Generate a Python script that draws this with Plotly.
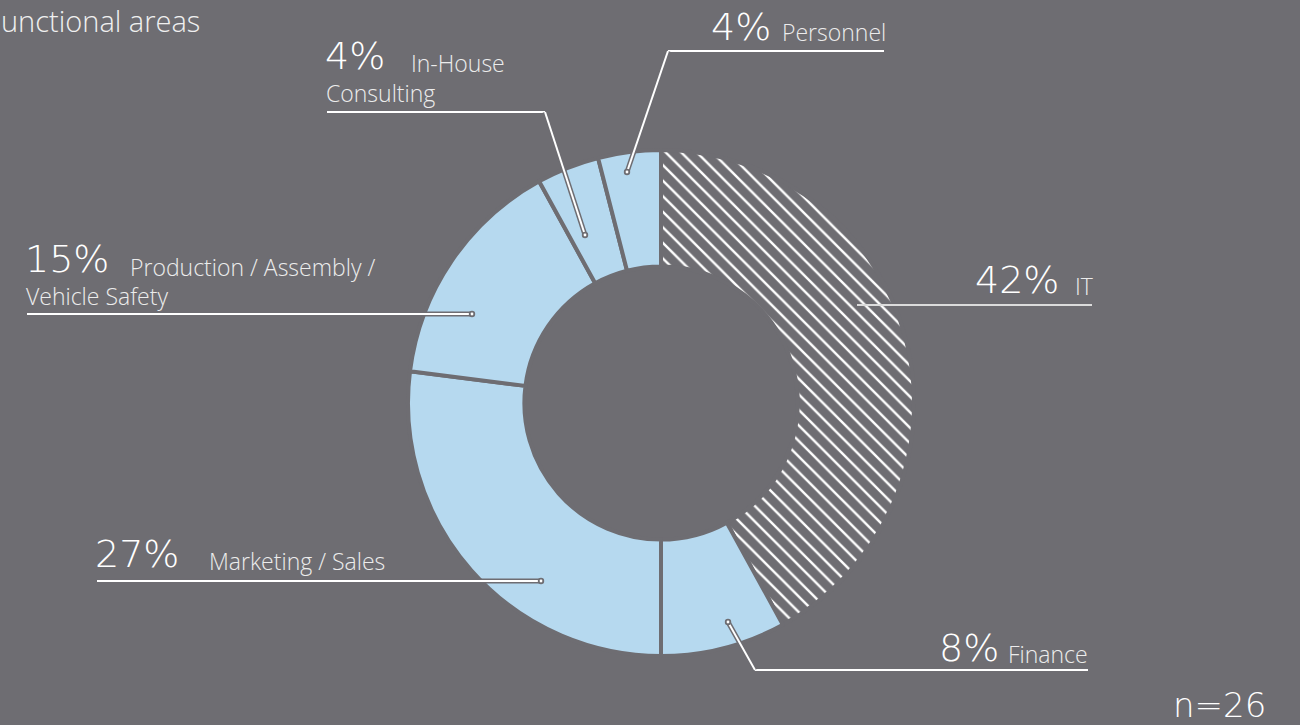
import plotly.graph_objects as go

# ---- data ----
areas = ["IT", "Finance", "Marketing / Sales", "Production / Assembly / Vehicle Safety",
         "In-House Consulting", "Personnel"]
shares = [42, 8, 27, 15, 4, 4]
pct_labels = ["42%", "8%", "27%", "15%", "4%", "4%"]
title_text = "unctional areas"
n_text = "n=26"

W, H = 1300, 725
BG = "#6e6d72"
BLUE = "#b6d9ef"
WHITE = "#ffffff"
LABEL_C = "#ececec"


def px(x, y):
    return x / W, 1 - y / H


cx, cy, R = 661, 403, 253
fig = go.Figure()
fig.add_trace(go.Pie(
    values=shares, labels=areas, sort=False, direction="clockwise", rotation=0,
    hole=0.54, textinfo="none", hoverinfo="label+percent",
    domain=dict(x=[(cx - R) / W, (cx + R) / W], y=[1 - (cy + R) / H, 1 - (cy - R) / H]),
    marker=dict(
        colors=[BG] + [BLUE] * 5,
        line=dict(color=BG, width=4),
        pattern=dict(shape=["\\", "", "", "", "", ""], fgcolor=WHITE, bgcolor=BG,
                     size=11, solidity=0.22, fillmode="replace"),
    ),
    showlegend=False,
))

shapes = []
annotations = []


def seg(x0, y0, x1, y1, color=WHITE, outline=True):
    a0, b0 = px(x0, y0)
    a1, b1 = px(x1, y1)
    if outline:
        shapes.append(dict(type="line", xref="paper", yref="paper", x0=a0, y0=b0, x1=a1, y1=b1,
                           line=dict(color=BG, width=5), layer="above"))
    shapes.append(dict(type="line", xref="paper", yref="paper", x0=a0, y0=b0, x1=a1, y1=b1,
                       line=dict(color=color, width=2), layer="above"))


def cap(x, y):
    for r, c in ((3.2, BG), (1.4, WHITE)):
        a0, b0 = px(x - r, y + r)
        a1, b1 = px(x + r, y - r)
        shapes.append(dict(type="circle", xref="paper", yref="paper", x0=a0, y0=b0, x1=a1, y1=b1,
                           fillcolor=c, line=dict(width=0), layer="above"))


def text(s, x, y, size, anchor="left", color=LABEL_C, family="Open Sans", weight=300, yanchor="middle"):
    a, b = px(x, y)
    annotations.append(dict(text=s, x=a, y=b, xref="paper", yref="paper", xanchor=anchor,
                            yanchor=yanchor, showarrow=False, borderpad=0,
                            font=dict(size=size, color=color, family=family, weight=weight)))


BIG = dict(size=38, color=WHITE, family="DejaVu Sans", weight=200)
LS = 23

# Personnel
text(pct_labels[5], 772, 27, anchor="right", **BIG)
text("Personnel", 887, 32, LS, anchor="right")
seg(668, 51, 884, 51, outline=False)
seg(668, 51, 627, 172)
cap(627, 172)

# In-House Consulting
text(pct_labels[4], 324, 56, anchor="left", **BIG)
text("In-House", 410, 63, LS)
text("Consulting", 325, 93, LS)
seg(327, 112, 545, 112, outline=False)
seg(545, 112, 585, 235)
cap(585, 235)

# IT
text(pct_labels[0], 1060, 280, anchor="right", **BIG)
text("IT", 1094, 286, LS, anchor="right")
seg(857, 305, 1092, 305, color="#dcdcdc", outline=False)

# Production
text(pct_labels[3], 24, 259, anchor="left", **BIG)
text("Production / Assembly /", 129, 267, LS)
text("Vehicle Safety", 25, 296, LS)
seg(27, 314, 472, 314)
cap(472, 314)

# Marketing
text(pct_labels[2], 94, 554, anchor="left", **BIG)
text("Marketing / Sales", 208, 561, LS)
seg(97, 581, 541, 581)
cap(541, 581)

# Finance
text(pct_labels[1], 1000, 648, anchor="right", **BIG)
text("Finance", 1089, 654, LS, anchor="right")
seg(755, 670, 1088, 670, outline=False)
seg(755, 670, 728, 622)
cap(728, 622)

# title and n
text(title_text, 0, 0, 29, anchor="left", color="#f0f0f0", yanchor="top")
text(n_text, 1267, 705, 34, anchor="right", color=WHITE, family="DejaVu Sans", weight=200)

fig.update_layout(
    width=W, height=H, margin=dict(l=0, r=0, t=0, b=0),
    paper_bgcolor=BG, plot_bgcolor=BG,
    shapes=shapes, annotations=annotations,
)

fig.write_html("out.html")
